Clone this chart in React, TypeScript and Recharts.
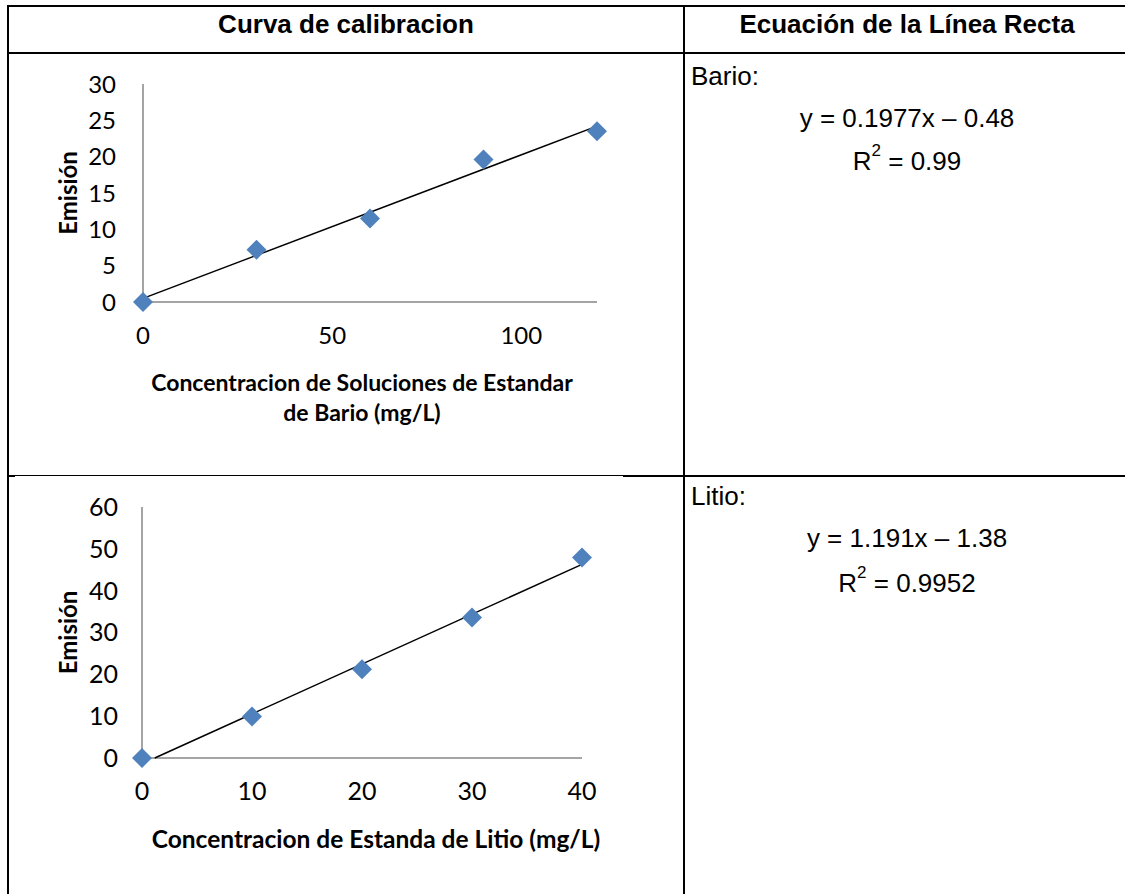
import React from 'react';
import { ScatterChart, Scatter, XAxis, YAxis, Label } from 'recharts';

const barioConc = [0, 30, 60, 90, 120];
const barioEmision = [0, 7.2, 11.5, 19.6, 23.5];
const barioTrendX = [0, 120];
const barioTrendY = [0.5, 24.2];
const barioXTicks = [0, 50, 100];
const barioYTicks = [0, 5, 10, 15, 20, 25, 30];

const litioConc = [0, 10, 20, 30, 40];
const litioEmision = [0, 9.9, 21.2, 33.6, 47.9];
const litioTrendX = [1.16, 40];
const litioTrendY = [0, 46.3];
const litioXTicks = [0, 10, 20, 30, 40];
const litioYTicks = [0, 10, 20, 30, 40, 50, 60];

const headers = ['Curva de calibracion', 'Ecuación de la Línea Recta'];
const elements = ['Bario:', 'Litio:'];
const equations = ['y = 0.1977x – 0.48', 'y = 1.191x – 1.38'];
const r2Values = ['0.99', '0.9952'];
const xTitles = [['Concentracion de Soluciones de Estandar', 'de Bario (mg/L)'], ['Concentracion de Estanda de Litio (mg/L)']];
const yTitle = 'Emisión';

const pts = (xs: number[], ys: number[]) => xs.map((x, i) => ({ x, y: ys[i] }));

const CHART_FONT = 'Lato, "Open Sans", sans-serif';
const TABLE_FONT = '"Liberation Sans", Arial, sans-serif';
const AXIS = '#868686';
const BLUE = '#4F81BD';

const Diamond = (props: any) => {
  const { cx, cy } = props;
  const r = 10;
  return <polygon points={`${cx},${cy - r} ${cx + r},${cy} ${cx},${cy + r} ${cx - r},${cy}`} fill={BLUE} />;
};

const NoShape = () => <g />;

const XTitle = (lines: string[], dx: number, fs: number) => (props: any) => {
  const vb = props.viewBox;
  const cx = vb.x + vb.width / 2 + dx;
  return (
    <g>
      {lines.map((t, i) => (
        <text key={i} x={cx} y={vb.y + 80 + i * 30} textAnchor="middle" dominantBaseline="central"
          fontFamily={CHART_FONT} fontWeight={700} fontSize={fs} fill="#000">{t}</text>
      ))}
    </g>
  );
};

const YTitle = (props: any) => {
  const vb = props.viewBox;
  const cx = vb.x + 27;
  const cy = vb.y + vb.height / 2;
  return (
    <text x={cx} y={cy} transform={`rotate(-90 ${cx} ${cy})`} textAnchor="middle" dominantBaseline="central"
      fontFamily={CHART_FONT} fontWeight={700} fontSize={24} fill="#000">{yTitle}</text>
  );
};

type CP = {
  left: number; top: number; width: number; height: number;
  margin: any; yWidth: number; xHeight: number;
  xDomain: [number, number]; yDomain: [number, number];
  xTicks: number[]; yTicks: number[];
  data: { x: number; y: number }[]; trend: { x: number; y: number }[];
  titleLines: string[]; titleDx: number; yTickMargin: number; xTickMargin: number;
  tickFs: number; titleFs: number;
};

const Chart = (p: CP) => (
  <div style={{ position: 'absolute', left: p.left, top: p.top }}>
    <ScatterChart width={p.width} height={p.height} margin={p.margin}>
      <XAxis type="number" dataKey="x" domain={p.xDomain} ticks={p.xTicks}
        axisLine={{ stroke: AXIS, strokeWidth: 1.5 }} tickLine={false} tickSize={0} tickMargin={p.xTickMargin}
        height={p.xHeight} tick={{ fontFamily: CHART_FONT, fontSize: p.tickFs, fill: '#000' }}>
        <Label content={XTitle(p.titleLines, p.titleDx, p.titleFs)} />
      </XAxis>
      <YAxis type="number" dataKey="y" domain={p.yDomain} ticks={p.yTicks}
        axisLine={{ stroke: AXIS, strokeWidth: 1.5 }} tickLine={false} tickSize={0} tickMargin={p.yTickMargin}
        width={p.yWidth} tick={{ fontFamily: CHART_FONT, fontSize: p.tickFs, fill: '#000' }}>
        <Label content={YTitle} />
      </YAxis>
      <Scatter data={p.trend} line={{ stroke: '#000', strokeWidth: 1.5 }} shape={NoShape} isAnimationActive={false} />
      <Scatter data={p.data} shape={Diamond} isAnimationActive={false} />
    </ScatterChart>
  </div>
);

const line = (l: number, t: number, w: number, h: number) => (
  <div style={{ position: 'absolute', left: l, top: t, width: w, height: h, background: '#000' }} />
);

const txt = (s: React.ReactNode, style: any) => (
  <div style={{ position: 'absolute', fontFamily: TABLE_FONT, fontSize: 26, color: '#000', whiteSpace: 'nowrap', lineHeight: 1, ...style }}>{s}</div>
);

const sup = { fontSize: 17, verticalAlign: 'top', position: 'relative', top: -6 } as any;

export default function App() {
  return (
    <div style={{ position: 'absolute', left: 0, top: 0, width: 1125, height: 894, background: '#fff', overflow: 'hidden' }}>
      {line(7, 5, 1118, 2)}
      {line(7, 5, 2, 889)}
      {line(683, 5, 2, 889)}
      {line(7, 52, 1118, 2)}
      {line(7, 475, 8, 2)}
      {line(15, 475, 608, 1)}
      {line(623, 475, 502, 2)}

      {txt(<b>{headers[0]}</b>, { left: 346, top: 24, transform: 'translate(-50%,-50%)' })}
      {txt(<b>{headers[1]}</b>, { left: 907, top: 24, transform: 'translate(-50%,-50%)' })}

      {txt(elements[0], { left: 691, top: 76, transform: 'translateY(-50%)' })}
      {txt(equations[0], { left: 907, top: 118, transform: 'translate(-50%,-50%)' })}
      {txt(<span>R<sup style={sup}>2</sup> = {r2Values[0]}</span>, { left: 907, top: 161, transform: 'translate(-50%,-50%)' })}

      {txt(elements[1], { left: 691, top: 496, transform: 'translateY(-50%)' })}
      {txt(equations[1], { left: 907, top: 538, transform: 'translate(-50%,-50%)' })}
      {txt(<span>R<sup style={sup}>2</sup> = {r2Values[1]}</span>, { left: 907, top: 583, transform: 'translate(-50%,-50%)' })}

      <Chart left={40} top={60} width={600} height={400}
        margin={{ top: 24, right: 43, left: 0, bottom: 48 }} yWidth={103} xHeight={110}
        xDomain={[0, 120]} yDomain={[0, 30]} xTicks={barioXTicks} yTicks={barioYTicks}
        data={pts(barioConc, barioEmision)} trend={pts(barioTrendX, barioTrendY)}
        titleLines={xTitles[0]} titleDx={-8} yTickMargin={27} xTickMargin={25} tickFs={24} titleFs={23} />

      <Chart left={40} top={480} width={600} height={414}
        margin={{ top: 27, right: 58, left: 0, bottom: 36 }} yWidth={102} xHeight={100}
        xDomain={[0, 40]} yDomain={[0, 60]} xTicks={litioXTicks} yTicks={litioYTicks}
        data={pts(litioConc, litioEmision)} trend={pts(litioTrendX, litioTrendY)}
        titleLines={xTitles[1]} titleDx={14} yTickMargin={24} xTickMargin={24} tickFs={25} titleFs={24.5} />
    </div>
  );
}
